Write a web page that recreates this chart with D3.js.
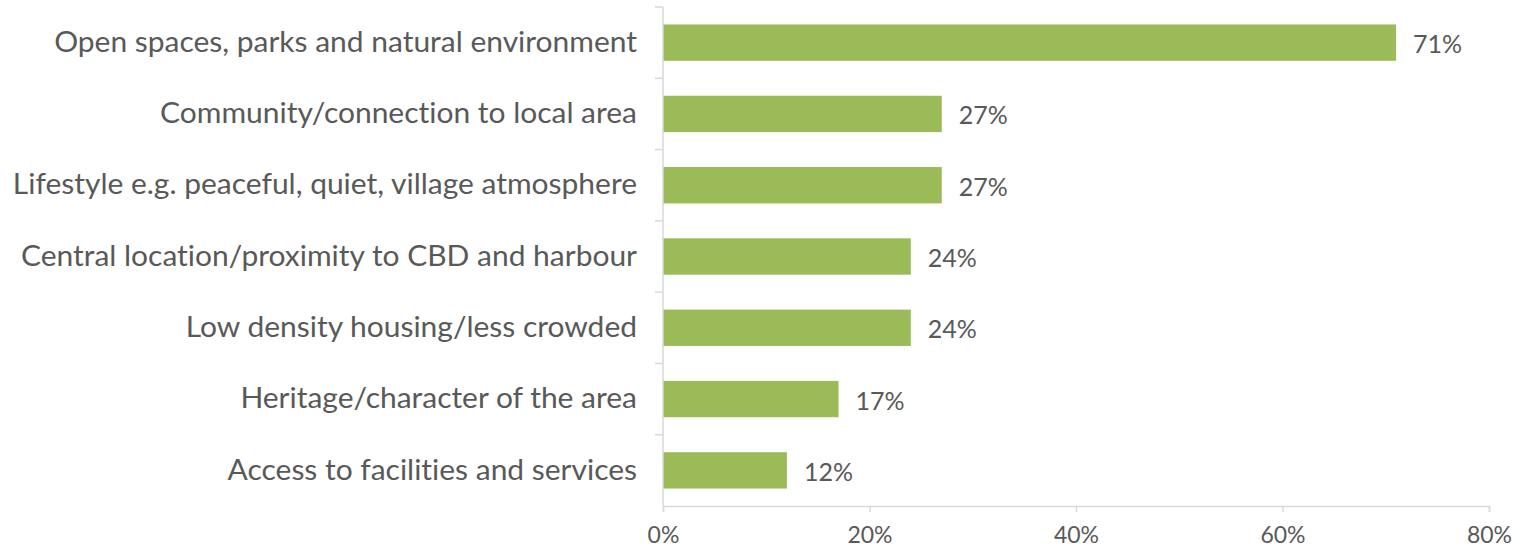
<!DOCTYPE html>
<html>
<head>
<meta charset="utf-8">
<script src="https://cdn.jsdelivr.net/npm/d3@7"></script>
<style>
  html, body { margin: 0; padding: 0; background: #fff; }
  svg { display: block; }
  text { font-family: "Lato", "Open Sans", sans-serif; fill: #595959; font-variant-ligatures: none; }
</style>
</head>
<body>
<svg id="chart" width="1519" height="547"></svg>
<script>
const categories = [
  "Open spaces, parks and natural environment",
  "Community/connection to local area",
  "Lifestyle e.g. peaceful, quiet, village atmosphere",
  "Central location/proximity to CBD and harbour",
  "Low density housing/less crowded",
  "Heritage/character of the area",
  "Access to facilities and services"
];
const values = [71, 27, 27, 24, 24, 17, 12];
const xTicks = [0, 20, 40, 60, 80];

const margin = { top: 7, right: 30, bottom: 41, left: 663 };
const width = 1489 - margin.left;
const height = 506 - margin.top;

const svg = d3.select("#chart");
const g = svg.append("g").attr("transform", `translate(${margin.left},${margin.top})`);

const x = d3.scaleLinear().domain([0, 80]).range([0, width]);
const y = d3.scaleBand().domain(categories).range([0, height]).paddingInner(0.49).paddingOuter(0.245);

// bars
g.selectAll("rect.bar")
  .data(values)
  .join("rect")
  .attr("class", "bar")
  .attr("x", 0)
  .attr("y", (d, i) => y(categories[i]))
  .attr("width", d => x(d))
  .attr("height", y.bandwidth())
  .attr("fill", "#9BBB59");

// value labels
g.selectAll("text.val")
  .data(values)
  .join("text")
  .attr("class", "val")
  .attr("x", d => x(d) + 17)
  .attr("y", (d, i) => y(categories[i]) + y.bandwidth() / 2)
  .attr("dy", "0.42em")
  .attr("font-size", 25)
  .text(d => d + "%");

// category axis: line with ticks at band boundaries
g.append("line")
  .attr("x1", 0).attr("x2", 0).attr("y1", 0).attr("y2", height)
  .attr("stroke", "#D9D9D9").attr("stroke-width", 1.5);
g.selectAll("line.ytick")
  .data(d3.range(categories.length))
  .join("line")
  .attr("class", "ytick")
  .attr("x1", -8).attr("x2", 0)
  .attr("y1", i => i * (height / categories.length))
  .attr("y2", i => i * (height / categories.length))
  .attr("stroke", "#D9D9D9").attr("stroke-width", 1.5);
const catLabels = g.selectAll("text.cat")
  .data(categories)
  .join("text")
  .attr("class", "cat")
  .attr("x", -26)
  .attr("y", d => y(d) + y.bandwidth() / 2)
  .attr("dy", "0.33em")
  .attr("text-anchor", "end")
  .attr("font-size", 28)
  .text(d => d);

// widen the category labels slightly for a rounder, wider face
const stretch = 1.07;
catLabels.each(function () {
  const w = this.getComputedTextLength();
  d3.select(this).attr("textLength", w * stretch).attr("lengthAdjust", "spacingAndGlyphs");
});

// value axis
const xAxis = g.append("g")
  .attr("transform", `translate(0,${height})`)
  .call(d3.axisBottom(x).tickValues(xTicks).tickFormat(d => d + "%").tickSize(6).tickPadding(15));
xAxis.select(".domain").attr("stroke", "#D9D9D9").attr("stroke-width", 1.5);
xAxis.selectAll(".tick line").attr("stroke", "#D9D9D9").attr("stroke-width", 1.5);
xAxis.selectAll(".tick text").attr("font-size", 23).attr("fill", "#595959")
  .style("font-family", '"Lato", "Open Sans", sans-serif');
</script>
</body>
</html>
